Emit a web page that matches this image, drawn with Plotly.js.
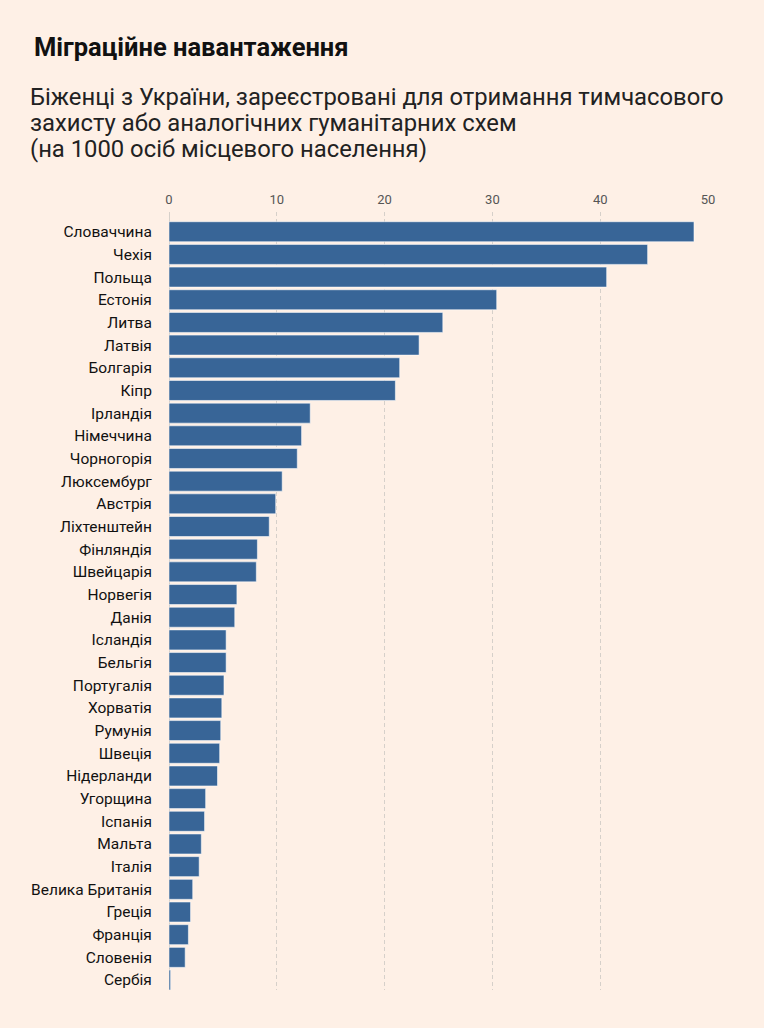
<!DOCTYPE html>
<html>
<head>
<meta charset="utf-8">
<script src="https://cdn.plot.ly/plotly-3.0.1.min.js"></script>
<style>
  html, body { margin: 0; padding: 0; background: #fef0e6; }
  #chart { width: 764px; height: 1028px; }
</style>
</head>
<body>
<div id="chart"></div>
<script>
var countries = ['Словаччина', 'Чехія', 'Польща', 'Естонія', 'Литва', 'Латвія', 'Болгарія', 'Кіпр',
  'Ірландія', 'Німеччина', 'Чорногорія', 'Люксембург', 'Австрія', 'Ліхтенштейн', 'Фінляндія',
  'Швейцарія', 'Норвегія', 'Данія', 'Ісландія', 'Бельгія', 'Португалія', 'Хорватія', 'Румунія',
  'Швеція', 'Нідерланди', 'Угорщина', 'Іспанія', 'Мальта', 'Італія', 'Велика Британія', 'Греція',
  'Франція', 'Словенія', 'Сербія'];
var perThousand = [48.7, 44.4, 40.6, 30.4, 25.4, 23.2, 21.4, 21.0,
  13.1, 12.3, 11.9, 10.5, 9.9, 9.3, 8.2,
  8.1, 6.3, 6.1, 5.3, 5.3, 5.1, 4.9, 4.8,
  4.7, 4.5, 3.4, 3.3, 3.0, 2.8, 2.2, 2.0,
  1.8, 1.5, 0.15];
var xTicks = [0, 10, 20, 30, 40, 50];

var title = 'Міграційне навантаження';
var subtitleLines = [
  'Біженці з України, зареєстровані для отримання тимчасового',
  'захисту або аналогічних гуманітарних схем',
  '(на 1000 осіб місцевого населення)'
];

// plot box in pixels, used to place the heading text
var L = 169, R = 56, T = 212, B = 38;
var W = 764 - L - R, H = 1028 - T - B;
function px(x) { return (x - L) / W; }
function py(y) { return (1028 - B - y) / H; }

var trace = {
  type: 'bar',
  orientation: 'h',
  y: countries,
  x: perThousand,
  marker: {
    color: '#386597',
    line: { color: 'rgba(255,255,255,0.55)', width: 1 }
  },
  hoverinfo: 'y+x'
};

var annotations = [{
  xref: 'paper', yref: 'paper',
  x: px(32), y: py(47),
  xanchor: 'left', yanchor: 'middle',
  text: '<b>' + title + '</b>',
  showarrow: false,
  font: { size: 25.5, color: '#111' }
}];
subtitleLines.forEach(function (line, i) {
  annotations.push({
    xref: 'paper', yref: 'paper',
    x: px(28), y: py(97 + i * 26),
    xanchor: 'left', yanchor: 'middle',
    text: line,
    showarrow: false,
    font: { size: 23.8, color: '#222' }
  });
});

var layout = {
  width: 764,
  height: 1028,
  paper_bgcolor: '#fef0e6',
  plot_bgcolor: '#fef0e6',
  margin: { l: L, r: R, t: T, b: B },
  bargap: 0.118,
  showlegend: false,
  font: { family: 'Roboto, "Noto Sans", sans-serif', color: '#111' },
  xaxis: {
    side: 'top',
    range: [0, 50],
    tickvals: xTicks,
    ticks: 'outside',
    ticklen: 2,
    tickcolor: 'rgba(0,0,0,0)',
    tickfont: { size: 13, color: '#555' },
    showgrid: true,
    gridcolor: '#d6d0ca',
    griddash: '4px,3px',
    gridwidth: 1,
    zeroline: true,
    zerolinecolor: '#d6d0ca',
    zerolinewidth: 1,
    showline: false,
    fixedrange: true
  },
  yaxis: {
    type: 'category',
    range: [33.44, -0.87],
    ticks: 'outside',
    ticklen: 13,
    tickcolor: 'rgba(0,0,0,0)',
    tickfont: { size: 15.5, color: '#111' },
    showgrid: false,
    zeroline: false,
    showline: false,
    fixedrange: true
  },
  annotations: annotations
};

Plotly.newPlot('chart', [trace], layout, { displayModeBar: false, staticPlot: true });
</script>
</body>
</html>
